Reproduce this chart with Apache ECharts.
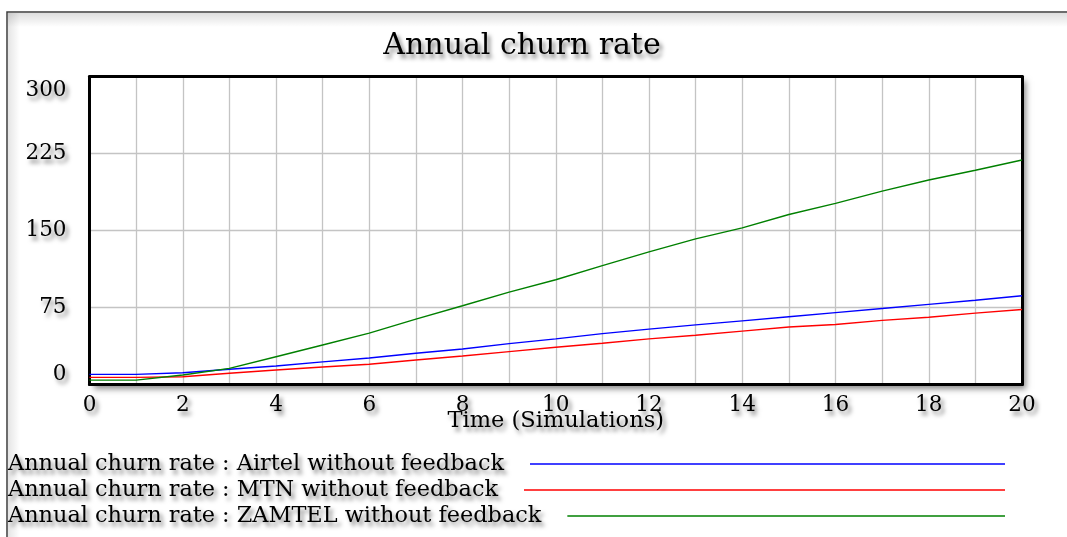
<!DOCTYPE html>
<html>
<head>
<meta charset="utf-8">
<script src="https://cdn.jsdelivr.net/npm/echarts@6/dist/echarts.min.js"></script>
<style>
  html, body { margin: 0; padding: 0; background: #fff; }
  #chart { width: 1067px; height: 537px; }
</style>
</head>
<body>
<div id="chart"></div>
<script>
// Simulation time steps
const years = [0, 1, 2, 3, 4, 5, 6, 7, 8, 9, 10, 11, 12, 13, 14, 15, 16, 17, 18, 19, 20];

// Annual churn rate per operator (no feedback loop)
const airtel = [9.9, 9.9, 11.4, 14.8, 18, 22, 25.8, 30.4, 34.6, 39.8, 44.4, 49.6, 53.9, 58.1, 62, 66, 70, 74, 78, 82, 86.4];
const mtn    = [6.9, 6.9, 7.5, 10.9, 14.1, 17, 19.7, 23.9, 27.8, 32, 36.3, 40.2, 44.4, 48, 52, 56, 58.5, 62.5, 65.5, 69.5, 73];
const zamtel = [4.3, 4.3, 9.2, 15.7, 27, 38.5, 50, 63.7, 76.7, 90, 102, 115.8, 129.2, 141.9, 152.6, 165.6, 176.4, 188.4, 199.2, 208.7, 218.7];

const seriesNames = [
  'Annual churn rate : Airtel without feedback',
  'Annual churn rate : MTN without feedback',
  'Annual churn rate : ZAMTEL without feedback'
];
const seriesColors = ['#0000ff', '#ff0000', '#008000'];

const yTicks = [0, 75, 150, 225, 300];
const xTicks = [0, 2, 4, 6, 8, 10, 12, 14, 16, 18, 20];

const FONT = '"DejaVu Serif", "Liberation Serif", serif';
const SHADOW = {
  textShadowColor: 'rgba(0,0,0,0.5)',
  textShadowBlur: 4,
  textShadowOffsetX: 3,
  textShadowOffsetY: 4
};

const pairs = vals => years.map((t, i) => [t, vals[i]]);
const seriesValues = [airtel, mtn, zamtel];

// Legend: text on the left, its line running out to a common right end
const LEGEND_FONT = 22.4;
const LEGEND_LEFT = 8;
const LEGEND_LINE_END = 1005;
const LEGEND_GAP = 26;
const legendTops = [453, 479, 505];
const measure = document.createElement('canvas').getContext('2d');
measure.font = LEGEND_FONT + 'px "DejaVu Serif"';

const legends = seriesNames.map((name, i) => ({
  data: [name],
  left: LEGEND_LEFT,
  top: legendTops[i],
  padding: 0,
  align: 'right',
  icon: 'rect',
  itemWidth: LEGEND_LINE_END - LEGEND_LEFT - measure.measureText(name).width - LEGEND_GAP,
  itemHeight: 1.5,
  selectedMode: false,
  textStyle: Object.assign({
    fontFamily: FONT,
    fontSize: LEGEND_FONT,
    color: '#000',
    lineHeight: 20,
    padding: [0, LEGEND_GAP - 5, 0, 0]
  }, SHADOW)
}));

const labelStyle = Object.assign({ fontFamily: FONT, fontSize: 21.5, color: '#000' }, SHADOW);

const chart = echarts.init(document.getElementById('chart'), null, { renderer: 'canvas' });

chart.setOption({
  animation: false,
  backgroundColor: '#fff',
  title: {
    text: 'Annual churn rate',
    left: 517,
    top: 26,
    textAlign: 'center',
    textStyle: Object.assign({ fontFamily: FONT, fontSize: 30, fontWeight: 'normal', color: '#000' }, SHADOW)
  },
  legend: legends,
  graphic: [
    {
      type: 'rect', z: -10, silent: true,
      shape: { x: 8, y: 13, width: 1060, height: 14 },
      style: {
        fill: new echarts.graphic.LinearGradient(0, 0, 0, 1, [
          { offset: 0, color: 'rgba(0,0,0,0.13)' },
          { offset: 1, color: 'rgba(0,0,0,0)' }
        ])
      }
    },
    {
      type: 'rect', z: -10, silent: true,
      shape: { x: 8, y: 13, width: 12, height: 530 },
      style: {
        fill: new echarts.graphic.LinearGradient(0, 0, 1, 0, [
          { offset: 0, color: 'rgba(0,0,0,0.10)' },
          { offset: 1, color: 'rgba(0,0,0,0)' }
        ])
      }
    },
    {
      type: 'rect', z: -5, silent: true,
      shape: { x: 7, y: 12, width: 1100, height: 600 },
      style: { fill: 'none', stroke: '#3c3c3c', lineWidth: 1.5 }
    }
  ],
  grid: {
    left: 89.5,
    right: 45,
    top: 76.5,
    bottom: 152.5,
    show: true,
    backgroundColor: '#fff',
    borderWidth: 0,
    shadowColor: 'rgba(0,0,0,0.45)',
    shadowBlur: 6,
    shadowOffsetX: 4,
    shadowOffsetY: 4
  },
  xAxis: [
    {
      type: 'value',
      min: xTicks[0],
      max: xTicks[xTicks.length - 1],
      interval: xTicks[1] - xTicks[0],
      name: 'Time (Simulations)',
      nameLocation: 'middle',
      nameGap: 25,
      nameMoveOverlap: false,
      nameTextStyle: Object.assign({ fontFamily: FONT, fontSize: 22.5, color: '#000' }, SHADOW),
      axisLine: { show: true, onZero: false, lineStyle: { color: '#000', width: 3 } },
      axisTick: { show: false },
      axisLabel: Object.assign({ margin: 10 }, labelStyle),
      splitLine: { show: true, lineStyle: { color: '#c4c4c4', width: 1.3 } },
      minorTick: { show: false, splitNumber: 2 },
      minorSplitLine: { show: true, lineStyle: { color: '#c4c4c4', width: 1.3 } }
    },
    {
      type: 'value',
      position: 'top',
      min: xTicks[0],
      max: xTicks[xTicks.length - 1],
      axisLine: { show: true, onZero: false, lineStyle: { color: '#000', width: 3 } },
      axisTick: { show: false },
      axisLabel: { show: false },
      splitLine: { show: false }
    }
  ],
  yAxis: [
    {
      type: 'value',
      min: yTicks[0],
      max: yTicks[yTicks.length - 1],
      interval: yTicks[1] - yTicks[0],
      axisLine: { show: true, onZero: false, lineStyle: { color: '#000', width: 3 } },
      axisTick: { show: false },
      axisLabel: Object.assign({
        margin: 23,
        formatter: v => v === yTicks[0] ? '{lo|' + v + '}' : (v === yTicks[yTicks.length - 1] ? '{hi|' + v + '}' : String(v)),
        rich: {
          lo: Object.assign({ fontFamily: FONT, fontSize: 21.5, color: '#000', padding: [0, 0, 21, 0] }, SHADOW),
          hi: Object.assign({ fontFamily: FONT, fontSize: 21.5, color: '#000', padding: [27, 0, 0, 0] }, SHADOW)
        }
      }, labelStyle),
      splitLine: { show: true, lineStyle: { color: '#c4c4c4', width: 1.3 } }
    },
    {
      type: 'value',
      position: 'right',
      min: yTicks[0],
      max: yTicks[yTicks.length - 1],
      axisLine: { show: true, onZero: false, lineStyle: { color: '#000', width: 3 } },
      axisTick: { show: false },
      axisLabel: { show: false },
      splitLine: { show: false }
    }
  ],
  series: seriesNames.map((name, i) => ({
    name: name,
    type: 'line',
    xAxisIndex: 0,
    yAxisIndex: 0,
    data: pairs(seriesValues[i]),
    showSymbol: false,
    symbol: 'none',
    color: seriesColors[i],
    lineStyle: { color: seriesColors[i], width: 1.4 },
    z: 3
  }))
});
</script>
</body>
</html>
